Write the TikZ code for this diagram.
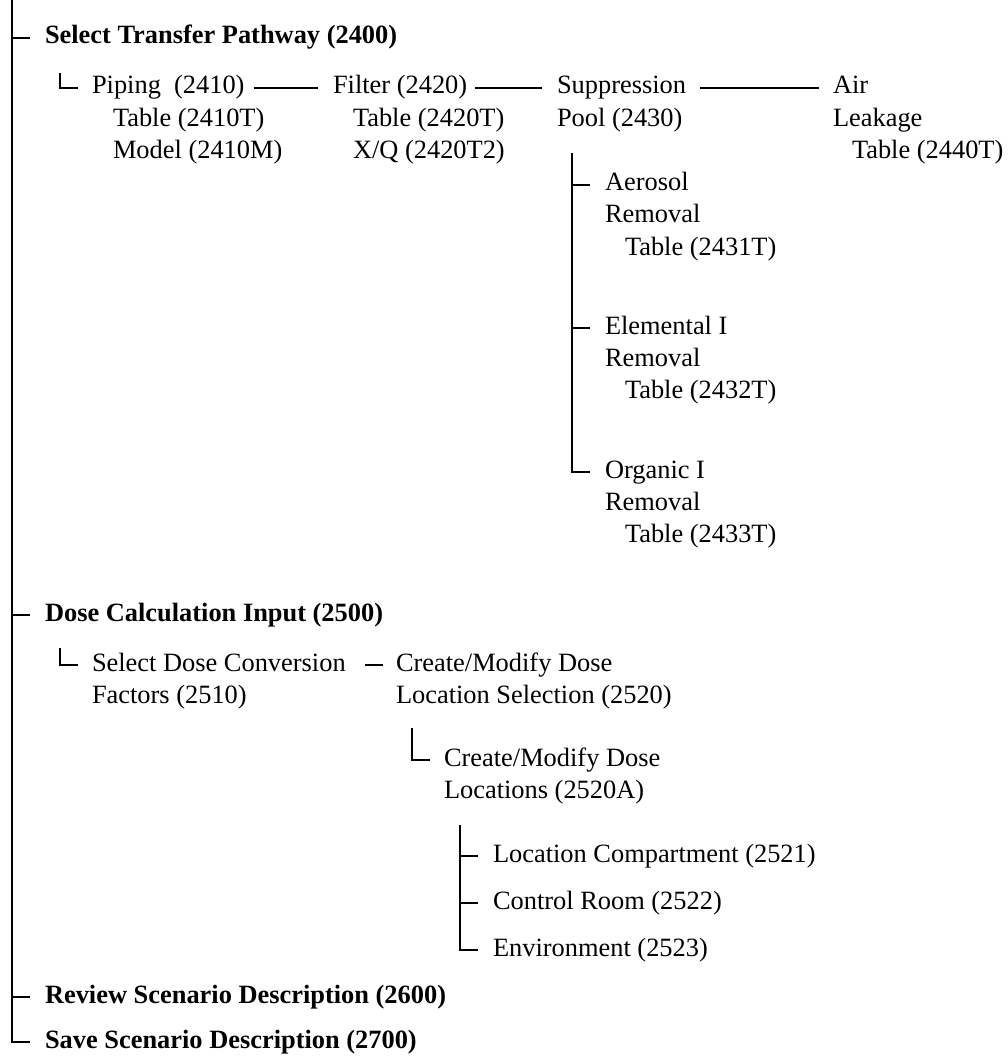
\documentclass[tikz,border=0pt]{standalone}
\usepackage{fontspec}
\setmainfont{Liberation Serif}
\usepackage{tikz}

\tikzset{
  item/.style={anchor=base west, inner sep=0pt, outer sep=0pt,
    text height=18pt, text depth=6pt,
    font=\fontsize{26.4pt}{32pt}\selectfont},
  head/.style={item, font=\fontsize{26.4pt}{32pt}\selectfont\bfseries},
  tree/.style={line width=2.8pt, line join=miter, shorten >=14pt},
  link/.style={line width=2.6pt}
}

\begin{document}
\begin{tikzpicture}[x=1pt, y=-1pt]
    \useasboundingbox (0,-3) rectangle (1008,1056);
    % top level
    \node[head] (sel) at (45,41) {Select Transfer Pathway (2400)};
    \node[head] (dose) at (45,618) {Dose Calculation Input (2500)};
    \node[head] (rev) at (45,1000) {Review Scenario Description (2600)};
    \node[head] (save) at (45,1045) {Save Scenario Description (2700)};
    % transfer pathway
    \node[item] (pip) at (92,91) {Piping\ \ (2410)};
    \node[item] (pipT) at (113,123.5) {Table (2410T)};
    \node[item] (pipM) at (113,156) {Model (2410M)};
    \node[item] (filt) at (333,91) {Filter (2420)};
    \node[item] (filtT) at (353,123.5) {Table (2420T)};
    \node[item] (filtX) at (353,156) {X/Q (2420T2)};
    \node[item] (sup) at (557,91) {Suppression};
    \node[item] (pool) at (557,123.5) {Pool (2430)};
    \node[item] (air) at (833,91) {Air};
    \node[item] (leak) at (833,123.5) {Leakage};
    \node[item] (airT) at (852,156) {Table (2440T)};
    % pool removal
    \node[item] (aer) at (605,188) {Aerosol};
    \node[item] (aerR) at (605,220) {Removal};
    \node[item] (aerT) at (625,252) {Table (2431T)};
    \node[item] (ele) at (605,331) {Elemental I};
    \node[item] (eleR) at (605,363) {Removal};
    \node[item] (eleT) at (625,395) {Table (2432T)};
    \node[item] (org) at (605,475) {Organic I};
    \node[item] (orgR) at (605,507) {Removal};
    \node[item] (orgT) at (625,539) {Table (2433T)};
    % dose input
    \node[item] (dcf) at (92,668) {Select Dose Conversion};
    \node[item] (dcfF) at (92,700) {Factors (2510)};
    \node[item] (dls) at (396,668) {Create/Modify Dose};
    \node[item] (dlsL) at (396,700) {Location Selection (2520)};
    \node[item] (dl) at (444,763) {Create/Modify Dose};
    \node[item] (dlL) at (444,795) {Locations (2520A)};
    \node[item] (comp) at (493,859) {Location Compartment (2521)};
    \node[item] (ctrl) at (493,906) {Control Room (2522)};
    \node[item] (env) at (493,953) {Environment (2523)};

    \coordinate (root) at (12,-3);
    \coordinate (pipL) at (60,70);
    \coordinate (poolV) at (572,150);
    \coordinate (doseL) at (60,645);
    \coordinate (dlV) at (412,725);
    \coordinate (locV) at (460,822);

    % trunk
    \draw[tree, shorten >=15pt] (root) |- (save.west);
    \draw[tree, shorten >=15pt] (root |- sel.west) -- (sel.west);
    \draw[tree, shorten >=15pt] (root |- dose.west) -- (dose.west);
    \draw[tree, shorten >=15pt] (root |- rev.west) -- (rev.west);
    % pathway chain
    \draw[tree] (pipL) |- (pip.west);
    \draw[link, shorten <=9pt, shorten >=15pt] (pip.east) -- (filt.west);
    \draw[link, shorten <=8pt, shorten >=15pt] (filt.east) -- (sup.west);
    \draw[link, shorten <=14pt, shorten >=14pt] (sup.east) -- (air.west);
    % removal branches
    \draw[tree, shorten >=15pt] (poolV) |- (org.west);
    \draw[tree, shorten >=15pt] (poolV |- aer.west) -- (aer.west);
    \draw[tree, shorten >=15pt] (poolV |- ele.west) -- (ele.west);
    % dose branches
    \draw[tree] (doseL) |- (dcf.west);
    \draw[link, shorten <=19pt, shorten >=13pt] (dcf.east) -- (dls.west);
    \draw[tree] (dlV) |- (dl.west);
    \draw[tree, shorten >=15pt] (locV) |- (env.west);
    \draw[tree, shorten >=15pt] (locV |- comp.west) -- (comp.west);
    \draw[tree, shorten >=15pt] (locV |- ctrl.west) -- (ctrl.west);
\end{tikzpicture}
\end{document}
